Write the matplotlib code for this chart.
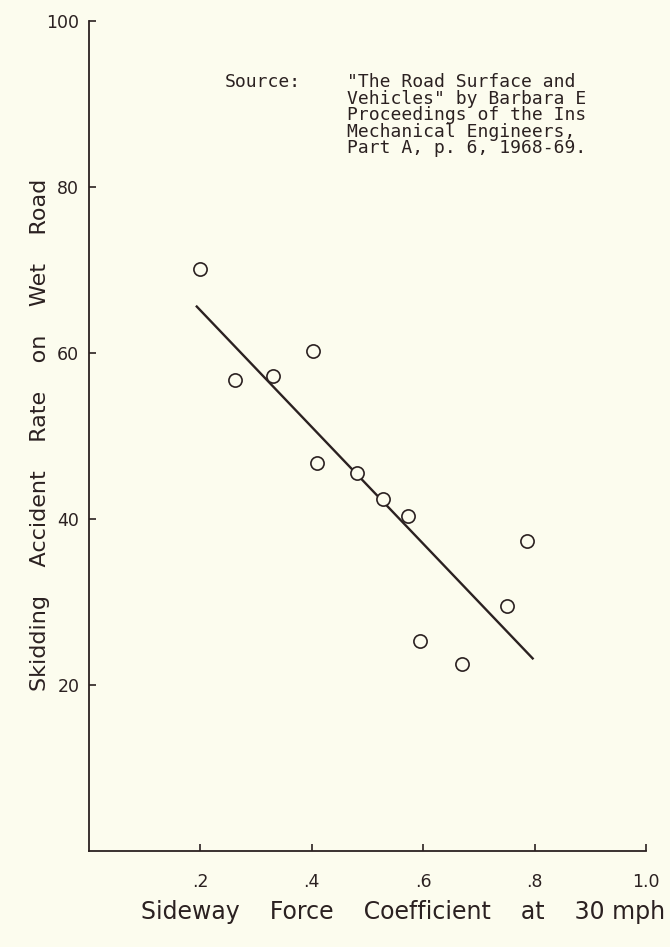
import matplotlib.pyplot as plt
import numpy as np

# Sideway force coefficient vs skidding accident rate
sfc = [0.200, 0.262, 0.330, 0.402, 0.410, 0.481, 0.527, 0.572, 0.594, 0.670, 0.750, 0.786]
accident_rate = [70.1, 56.7, 57.2, 60.2, 46.7, 45.5, 42.4, 40.4, 25.3, 22.5, 29.5, 37.3]

# fitted line end points
fit_x = [0.192, 0.798]
fit_y = [65.7, 23.1]

x_ticks = [0.2, 0.4, 0.6, 0.8, 1.0]
x_ticklabels = ['.2', '.4', '.6', '.8', '1.0']
y_ticks = [20, 40, 60, 80, 100]

source_lines = ['"The Road Surface and',
                'Vehicles" by Barbara E',
                'Proceedings of the Ins',
                'Mechanical Engineers,',
                'Part A, p. 6, 1968-69.']

ink = '#2b2121'
bg = '#fcfcee'

fig = plt.figure(figsize=(6.7, 9.47), dpi=100, facecolor=bg)
ax = fig.add_axes([89/670, 1 - 851/947, (646 - 89)/670, (851 - 21)/947])
ax.set_facecolor(bg)

ax.plot(fit_x, fit_y, color=ink, lw=1.7, solid_capstyle='butt')
ax.plot(sfc, accident_rate, 'o', ms=9.5, mfc=bg, mec=ink, mew=1.2)

ax.set_xlim(0, 1.0)
ax.set_ylim(0, 100)
ax.set_xticks(x_ticks)
ax.set_xticklabels(x_ticklabels)
ax.set_yticks(y_ticks)

for side in ['top', 'right']:
    ax.spines[side].set_visible(False)
for side in ['left', 'bottom']:
    ax.spines[side].set_color(ink)
    ax.spines[side].set_linewidth(1.3)

ax.tick_params(axis='both', direction='in', length=5, width=1.2, color=ink,
               labelcolor=ink, labelsize=12.5)
ax.tick_params(axis='x', pad=16)
ax.tick_params(axis='y', pad=7)

# axis titles
fig.text(403/670, 1 - 912/947, 'Sideway    Force    Coefficient    at    30 mph',
         ha='center', va='center', fontsize=17, color=ink)
fig.text(40/670, 1 - 435/947, 'Skidding    Accident    Rate    on    Wet    Road',
         ha='center', va='center', rotation=90, fontsize=16, color=ink)

# source note
mono = dict(family='DejaVu Sans Mono', fontsize=13, color=ink, ha='left', va='top')
fig.text(225/670, 1 - 73/947, 'Source:', **mono)
fig.text(347/670, 1 - 73/947, '\n'.join(source_lines), linespacing=0.9, **mono)

plt.savefig('out.png', dpi=100, facecolor=bg)
